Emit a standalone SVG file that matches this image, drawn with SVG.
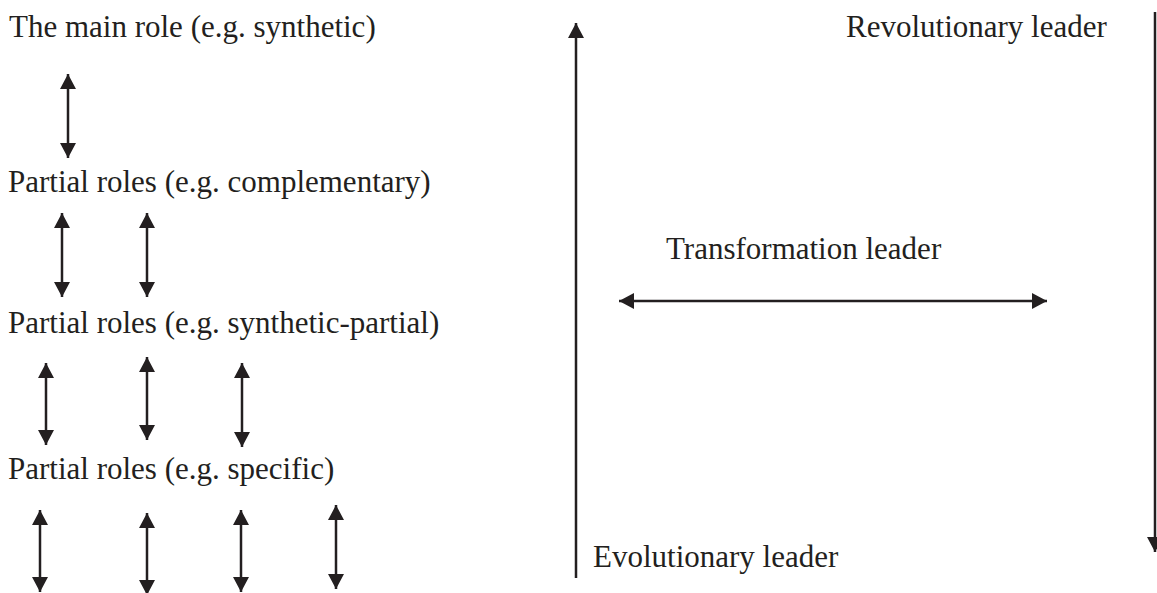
<svg xmlns="http://www.w3.org/2000/svg" width="1157" height="593" viewBox="0 0 1157 593">
<style>
.t{font-family:"Liberation Serif","Times New Roman",serif;font-size:31px;fill:#231f20}
.a{stroke:#231f20;stroke-width:2.5;fill:none;marker-start:url(#h);marker-end:url(#h)}
.e{stroke:#231f20;stroke-width:2.5;fill:none;marker-end:url(#h)}
</style>
<defs>
<marker id="h" viewBox="0 0 15 16" refX="15" refY="8" markerWidth="15" markerHeight="16" markerUnits="userSpaceOnUse" orient="auto-start-reverse">
<path d="M0,0 L15,8 L0,16 z" fill="#231f20"/>
</marker>
</defs>
<rect width="1157" height="593" fill="#ffffff"/>
<g id="main-role"><text class="t" x="9" y="37">The main role (e.g. synthetic)</text></g>
<g id="partial-complementary"><text class="t" x="8" y="192">Partial roles (e.g. complementary)</text></g>
<g id="partial-synthetic"><text class="t" x="8" y="333">Partial roles (e.g. synthetic-partial)</text></g>
<g id="partial-specific"><text class="t" x="8" y="479">Partial roles (e.g. specific)</text></g>
<g id="revolutionary"><text class="t" x="846" y="37">Revolutionary leader</text></g>
<g id="transformation"><text class="t" x="666" y="259">Transformation leader</text></g>
<g id="evolutionary"><text class="t" x="593" y="567">Evolutionary leader</text></g>
<g id="connectors">
<line class="a" x1="68" y1="74" x2="68" y2="158"/>
<line class="a" x1="62" y1="213" x2="62" y2="297"/>
<line class="a" x1="147" y1="213" x2="147" y2="297"/>
<line class="a" x1="46" y1="363" x2="46" y2="445"/>
<line class="a" x1="147" y1="357" x2="147" y2="440"/>
<line class="a" x1="242" y1="363" x2="242" y2="447"/>
<line class="a" x1="40" y1="510" x2="40" y2="592"/>
<line class="a" x1="147" y1="513" x2="147" y2="595"/>
<line class="a" x1="241" y1="510" x2="241" y2="592"/>
<line class="a" x1="336" y1="505" x2="336" y2="589"/>
<line class="e" x1="576" y1="578" x2="576" y2="23"/>
<line class="e" x1="1155" y1="12" x2="1155" y2="552"/>
<line class="a" x1="619" y1="301" x2="1047" y2="301"/>
</g>
</svg>
